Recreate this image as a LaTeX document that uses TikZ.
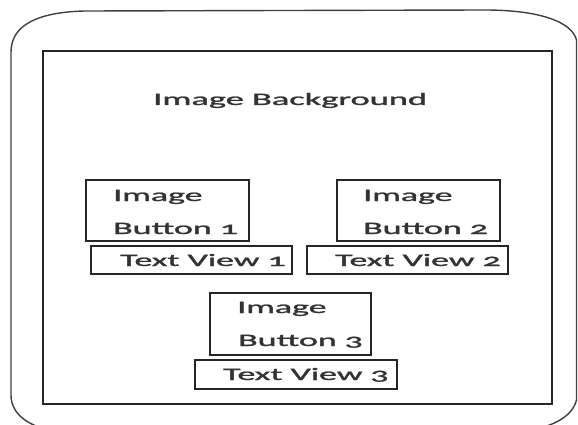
\documentclass[tikz,border=0pt]{standalone}
\usepackage{fontspec}
\setmainfont[Numbers=OldStyle,FakeBold=1.2]{Carlito}
\usepackage{graphicx}
\begin{document}
\begin{tikzpicture}[x=1pt,y=-1pt,
  frame/.style={draw=black!85, line width=1.4pt},
  box/.style={draw=black!85, line width=1.2pt},
  lbl/.style={anchor=base west, inner sep=0pt, text=black!80,
    font=\fontsize{17.5}{18}\selectfont}]
\useasboundingbox (0,0) rectangle (578,425);
\begin{scope}
\clip (0,0) rectangle (578,425);
% outer phone body
\draw[frame, draw=black!75] (11,395) -- (11,52)
  .. controls (11,24) and (40,12) .. (85,11) -- (485,10)
  .. controls (540,10) and (572,22) .. (576.5,40) -- (576.5,400)
  .. controls (572,418) and (550,428) .. (520,432) -- (60,432)
  .. controls (30,428) and (11,415) .. (11,395);
\end{scope}
% inner screen
\draw[frame] (43,51) rectangle (552,404);
\coordinate (bgc) at (153,105);
\node[lbl] (bg) at (bgc) {\scalebox{2.08}[1]{Image Background}};
% image buttons
\draw[box] (86,180) rectangle (249,241);
\draw[box] (337,180) rectangle (500,241);
\draw[box] (210,293) rectangle (371,355);
% text views
\draw[box] (91,246) rectangle (292,274);
\draw[box] (307,246) rectangle (508,274);
\draw[box] (195,360) rectangle (397,389);
% labels
\node[lbl] (ib1a) at (113,201) {\scalebox{2.05}[1]{Image}};
\node[lbl] (ib1b) at (113,234) {\scalebox{2.05}[1]{Button 1}};
\node[lbl] (ib2a) at (363,201) {\scalebox{2.05}[1]{Image}};
\node[lbl] (ib2b) at (363,234) {\scalebox{2.05}[1]{Button 2}};
\node[lbl] (ib3a) at (237,313) {\scalebox{2.05}[1]{Image}};
\node[lbl] (ib3b) at (238,346) {\scalebox{2.05}[1]{Button 3}};
\node[lbl] (tv1) at (120,266) {\scalebox{2.05}[1]{Text View 1}};
\node[lbl] (tv2) at (335,266) {\scalebox{2.05}[1]{Text View 2}};
\node[lbl] (tv3) at (223,380) {\scalebox{2.05}[1]{Text View 3}};
\end{tikzpicture}
\end{document}
